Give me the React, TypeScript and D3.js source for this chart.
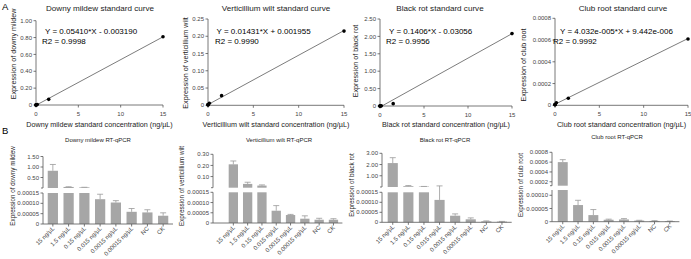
import React from 'react';
import * as d3 from 'd3';

const FONT = "'Liberation Sans', Arial, sans-serif";

// ---- panel A: standard curves ----
const curveTitles = ['Downy mildew standard curve', 'Verticillium wilt  standard curve', 'Black rot  standard curve', 'Club root  standard curve'];
const curveXTitles = [
  'Downy mildew standard concentration (ng/µL)',
  'Verticillium wilt  standard concentration (ng/µL)',
  'Black rot  standard concentration (ng/µL)',
  'Club root  standard concentration (ng/µL)',
];
const curveYTitles = ['Expression of downy mildew', 'Expression of verticillium wilt', 'Expression of  black rot', 'Expression of club root'];
const curveConc = [15, 1.5, 0.15, 0.015, 0.0015, 0.00015];
const downyCurve = [0.81, 0.067, 0.006, 0.001, 0.0, 0.0];
const vertCurve = [0.215, 0.028, 0.006, 0.002, 0.0015, 0.0012];
const blackCurve = [2.08, 0.067, 0.004, 0.0, 0.0, 0.0];
const clubCurve = [0.00061, 0.0000644, 0.000024, 0.000008, 0.000006, 0.000005];
const curveData = [downyCurve, vertCurve, blackCurve, clubCurve];
const fitSlopes = [0.0541, 0.01431, 0.1406, 4.032e-5];
const fitIntercepts = [-0.00319, 0.001955, -0.03056, 9.442e-6];
const fitLabels = ['Y = 0.05410*X - 0.003190', 'Y = 0.01431*X + 0.001955', 'Y = 0.1406*X - 0.03056', 'Y = 4.032e-005*X + 9.442e-006'];
const r2Labels = ['R2 = 0.9998', 'R2 = 0.9990', 'R2 = 0.9956', 'R2 = 0.9992'];
const curveYMax = [1.0, 0.25, 2.5, 0.0008];
const curveYTicks = [
  [0, 0.2, 0.4, 0.6, 0.8, 1.0],
  [0, 0.05, 0.1, 0.15, 0.2, 0.25],
  [0, 0.5, 1.0, 1.5, 2.0, 2.5],
  [0, 0.0002, 0.0004, 0.0006, 0.0008],
];
const curveYFormats = ['.2f', '.2f', '.2f', '.4f'];
const curveXTicks = [0, 5, 10, 15];

// ---- panel B: RT-qPCR ----
const qpcrCategories = ['15 ng/µL', '1.5 ng/µL', '0.15 ng/µL', '0.015 ng/µL', '0.0015 ng/µL', '0.00015 ng/µL', 'NC', 'CK'];
const qpcrTitles = ['Downy mildew RT-qPCR', 'Verticillium wilt RT-qPCR', 'Black rot RT-qPCR', 'Club root RT-qPCR'];
const qpcrYTitles = ['Expression of downy mildew', 'Expression of verticillium wilt', 'Expression of  black rot', 'Expression of club root'];
const downyMean = [0.82, 0.05, 0.03, 0.00012, 0.000104, 0.000059, 0.000056, 0.00004];
const downySd = [0.3, 0.01, 0.004, 0.000024, 0.000009, 0.000016, 0.000013, 0.000014];
const vertMean = [0.21, 0.034, 0.019, 0.00006, 0.000039, 0.000021, 0.000016, 0.000016];
const vertSd = [0.03, 0.015, 0.006, 0.000025, 0.000003, 0.000014, 0.000007, 0.000005];
const blackMean = [2.13, 0.07, 0.04, 0.000112, 0.000033, 0.000015, 0.000005, 0.0000035];
const blackSd = [0.48, 0.06, 0.01, 0.00007, 0.000009, 0.000007, 0.000002, 0.000001];
const clubMean = [0.0006, 0.000063, 0.000025, 0.0000074, 0.0000085, 0.0000043, 0.000003, 0.000002];
const clubSd = [0.00005, 0.000018, 0.000021, 0.0000022, 0.0000032, 0.000001, 0.000001, 0.0000005];
const qpcrMeans = [downyMean, vertMean, blackMean, clubMean];
const qpcrSds = [downySd, vertSd, blackSd, clubSd];
const lowerMax = [0.00015, 0.00015, 0.00015, 0.00012];
const upperMin = [0, 0, 0, 0.00012];
const upperMax = [1.5, 0.3, 3.0, 0.0008];
const upperTicks = [[0.5, 1.0, 1.5], [0.1, 0.2, 0.3], [1, 2, 3], [0.0002, 0.0004, 0.0006, 0.0008]];
const upperFormats = ['.2f', '.2f', '.2f', '.4f'];
const lowerTicks = [
  [0, 0.00005, 0.0001, 0.00015],
  [0, 0.00005, 0.0001, 0.00015],
  [0, 0.00005, 0.0001, 0.00015],
  [0, 0.00005, 0.0001],
];

// layout
const curveLayout = [
  { left: 36, right: 163, top: 20.7, bottom: 105, titleX: 100, yTitleX: 13, yTitleY: 54, eqX: 45, r2X: 42 },
  { left: 208, right: 344, top: 19, bottom: 105.3, titleX: 276, yTitleX: 185, yTitleY: 63, eqX: 216.5, r2X: 215 },
  { left: 380, right: 512, top: 19, bottom: 106, titleX: 440, yTitleX: 355, yTitleY: 61, eqX: 389, r2X: 386 },
  { left: 555, right: 688, top: 18.3, bottom: 105.3, titleX: 623, yTitleX: 523.5, yTitleY: 65, eqX: 560, r2X: 553 },
];
const qpcrLayout = [
  { axisX: 43, bandL: 43, bandR: 173, upTop: 156.5, upBot: 188, loTop: 193, loBot: 224, titleX: 98, titleY: 142, yTitleX: 13, yTitleY: 186 },
  { axisX: 213, bandL: 224.4, bandR: 342.4, upTop: 154.3, upBot: 187.7, loTop: 192.3, loBot: 223, titleX: 279, titleY: 142, yTitleX: 182, yTitleY: 186 },
  { axisX: 382, bandL: 383, bandR: 511.7, upTop: 153.3, upBot: 187, loTop: 192.3, loBot: 222.3, titleX: 445, titleY: 142, yTitleX: 352, yTitleY: 185 },
  { axisX: 552, bandL: 553.2, bandR: 679.4, upTop: 152.3, upBot: 185.7, loTop: 190, loBot: 221.7, titleX: 617, titleY: 139, yTitleX: 521, yTitleY: 185 },
];

const AXIS = '#555';
const TXT = '#222';
const TICK_TXT = '#444';
const BAR = '#a6a6a6';
const ERR = '#999';

const fmtTick = (f: string) => (v: number) => (v === 0 ? '0' : d3.format(f)(v));

const CurvePanel = ({ i }: { i: number }) => {
  const L = curveLayout[i];
  const x = d3.scaleLinear().domain([0, 15]).range([L.left, L.right]);
  const y = d3.scaleLinear().domain([0, curveYMax[i]]).range([L.bottom, L.top]);
  const fmt = fmtTick(curveYFormats[i]);
  const xs = d3.extent(curveConc) as [number, number];
  const line = d3.line<number>().x((d) => x(d)).y((d) => y(fitSlopes[i] * d + fitIntercepts[i]));
  const cy = (L.top + L.bottom) / 2;
  return (
    <g>
      <text x={L.titleX} y={11} textAnchor="middle" fontSize={8.1} fill={TXT}>{curveTitles[i]}</text>
      <line x1={L.left} x2={L.left} y1={L.top} y2={L.bottom} stroke={AXIS} strokeWidth={0.8} />
      <line x1={L.left} x2={L.right} y1={L.bottom} y2={L.bottom} stroke={AXIS} strokeWidth={0.8} />
      {curveYTicks[i].map((t) => (
        <g key={t}>
          <line x1={L.left - 2.5} x2={L.left} y1={y(t)} y2={y(t)} stroke={AXIS} strokeWidth={0.8} />
          <text x={L.left - 4} y={y(t)} dy="0.35em" textAnchor="end" fontSize={6} fill={TICK_TXT}>{fmt(t)}</text>
        </g>
      ))}
      {curveXTicks.map((t) => (
        <g key={t}>
          <line x1={x(t)} x2={x(t)} y1={L.bottom} y2={L.bottom + 2.5} stroke={AXIS} strokeWidth={0.8} />
          <text x={x(t)} y={L.bottom + 11} textAnchor="middle" fontSize={6} fill={TICK_TXT}>{t}</text>
        </g>
      ))}
      <path d={line(xs) || ''} fill="none" stroke="#444" strokeWidth={0.7} />
      {curveData[i].map((v, k) => (
        <circle key={k} cx={x(curveConc[k])} cy={y(v)} r={1.8} fill="#000" />
      ))}
      <text x={L.eqX} y={33.5} fontSize={8} fill="#000">{fitLabels[i]}</text>
      <text x={L.r2X} y={43.5} fontSize={8} fill="#000">{r2Labels[i]}</text>
      <text x={(L.left + L.right) / 2} y={127} textAnchor="middle" fontSize={7.2} fill={TXT}>{curveXTitles[i]}</text>
      <text transform={`translate(${L.yTitleX},${L.yTitleY}) rotate(-90)`} textAnchor="middle" dy="0.35em" fontSize={7.2} fill={TXT}>
        {curveYTitles[i]}
      </text>
    </g>
  );
};

const QpcrPanel = ({ i }: { i: number }) => {
  const L = qpcrLayout[i];
  const x = d3.scaleBand().domain(qpcrCategories).range([L.bandL, L.bandR]).paddingInner(0.35).paddingOuter(0.3);
  const yLo = d3.scaleLinear().domain([0, lowerMax[i]]).range([L.loBot, L.loTop]);
  const yUp = d3.scaleLinear().domain([upperMin[i], upperMax[i]]).range([L.upBot, L.upTop]);
  const bw = x.bandwidth();
  const means = qpcrMeans[i];
  const sds = qpcrSds[i];
  const upFmt = fmtTick(upperFormats[i]);
  const loFmt = fmtTick('.5f');
  return (
    <g>
      <text x={L.titleX} y={L.titleY} textAnchor="middle" fontSize={6} fill={TXT}>{qpcrTitles[i]}</text>
      {qpcrCategories.map((c, k) => {
        const m = means[k];
        const top = m + sds[k];
        const bx = x(c) as number;
        const cx = bx + bw / 2;
        const broken = m > lowerMax[i];
        const ys = broken ? yUp : yLo;
        return (
          <g key={c}>
            {broken ? (
              <>
                <rect x={bx} width={bw} y={L.loTop} height={L.loBot - L.loTop} fill={BAR} />
                <rect x={bx} width={bw} y={yUp(m)} height={L.upBot - yUp(m)} fill={BAR} />
              </>
            ) : (
              <rect x={bx} width={bw} y={yLo(m)} height={L.loBot - yLo(m)} fill={BAR} />
            )}
            <line x1={cx} x2={cx} y1={ys(m)} y2={ys(top)} stroke={ERR} strokeWidth={0.8} />
            <line x1={cx - 3} x2={cx + 3} y1={ys(top)} y2={ys(top)} stroke={ERR} strokeWidth={0.8} />
          </g>
        );
      })}
      <line x1={L.axisX} x2={L.axisX} y1={L.upTop} y2={L.upBot} stroke={AXIS} strokeWidth={0.8} />
      <line x1={L.axisX - 2} x2={L.axisX} y1={L.upBot} y2={L.upBot} stroke={AXIS} strokeWidth={0.8} />
      <line x1={L.axisX} x2={L.axisX} y1={L.loTop} y2={L.loBot} stroke={AXIS} strokeWidth={0.8} />
      <line x1={L.axisX} x2={L.bandR} y1={L.loBot} y2={L.loBot} stroke={AXIS} strokeWidth={0.8} />
      {upperTicks[i].map((t) => (
        <g key={'u' + t}>
          <line x1={L.axisX - 2.5} x2={L.axisX} y1={yUp(t)} y2={yUp(t)} stroke={AXIS} strokeWidth={0.8} />
          <text x={L.axisX - 4} y={yUp(t)} dy="0.35em" textAnchor="end" fontSize={6} fill={TICK_TXT}>{upFmt(t)}</text>
        </g>
      ))}
      {lowerTicks[i].map((t) => (
        <g key={'l' + t}>
          <line x1={L.axisX - 2.5} x2={L.axisX} y1={yLo(t)} y2={yLo(t)} stroke={AXIS} strokeWidth={0.8} />
          <text x={L.axisX - 4} y={yLo(t)} dy="0.35em" textAnchor="end" fontSize={6} fill={TICK_TXT}>{loFmt(t)}</text>
        </g>
      ))}
      {qpcrCategories.map((c) => {
        const cx = (x(c) as number) + bw / 2;
        return (
          <g key={'x' + c}>
            <line x1={cx} x2={cx} y1={L.loBot} y2={L.loBot + 2.5} stroke={AXIS} strokeWidth={0.8} />
            <text transform={`translate(${cx + 2},${L.loBot + 5}) rotate(-45)`} textAnchor="end" fontSize={6} fill={TICK_TXT}>{c}</text>
          </g>
        );
      })}
      <text transform={`translate(${L.yTitleX},${L.yTitleY}) rotate(-90)`} textAnchor="middle" dy="0.35em" fontSize={6.3} fill={TXT}>
        {qpcrYTitles[i]}
      </text>
    </g>
  );
};

export default function App() {
  return (
    <svg
      width={691}
      height={259}
      style={{ position: 'absolute', left: 0, top: 0, background: '#fff' }}
      fontFamily={FONT}
    >
      <rect width={691} height={259} fill="#fff" />
      <text x={2} y={10} fontSize={9.5} fill="#000">A</text>
      <text x={2} y={134} fontSize={9.5} fill="#000">B</text>
      {[0, 1, 2, 3].map((i) => <CurvePanel key={'a' + i} i={i} />)}
      {[0, 1, 2, 3].map((i) => <QpcrPanel key={'b' + i} i={i} />)}
    </svg>
  );
}
